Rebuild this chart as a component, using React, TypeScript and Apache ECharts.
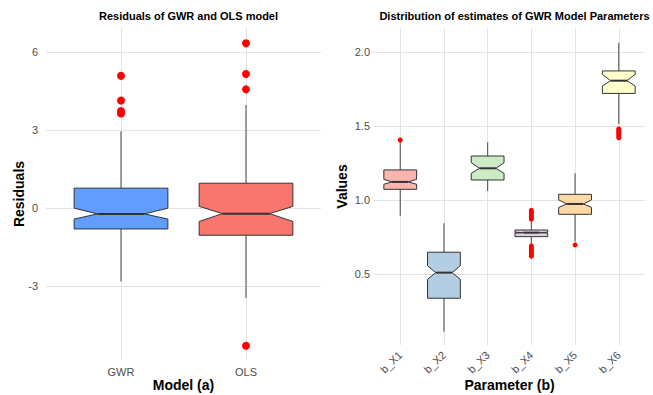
import React, { useEffect, useRef } from "react";
import * as echarts from "echarts";

// Left panel: residuals by model
const models = ["GWR", "OLS"];
const resLowerWhisker = [-2.83, -3.47];
const resQ1 = [-0.81, -1.05];
const resNotchLo = [-0.43, -0.52];
const resMedian = [-0.23, -0.22];
const resNotchHi = [-0.01, 0.06];
const resQ3 = [0.76, 0.95];
const resUpperWhisker = [2.95, 3.96];
const resOutliers: number[][] = [
  [5.08, 4.13, 3.73, 3.63],
  [6.33, 5.15, 4.56, -5.3],
];
const modelColors = ["#619CFF", "#F8766D"];
const residualTicks = [-3, 0, 3, 6];

// Right panel: GWR parameter estimates
const params = ["b_X1", "b_X2", "b_X3", "b_X4", "b_X5", "b_X6"];
const parLowerWhisker = [0.894, 0.11, 1.061, 0.70, 0.72, 1.514];
const parQ1 = [1.072, 0.336, 1.135, 0.752, 0.903, 1.72];
const parNotchLo = [1.106, 0.464, 1.18, 0.776, 0.95, 1.77];
const parMedian = [1.122, 0.509, 1.214, 0.779, 0.973, 1.806];
const parNotchHi = [1.139, 0.556, 1.252, 0.782, 1.0, 1.849];
const parQ3 = [1.203, 0.647, 1.297, 0.797, 1.038, 1.872];
const parUpperWhisker = [1.394, 0.842, 1.39, 0.86, 1.18, 2.063];
const parOutliers: number[][] = [
  [1.405],
  [],
  [],
  [0.93, 0.92, 0.91, 0.9, 0.89, 0.88, 0.87, 0.69, 0.68, 0.67, 0.66, 0.65, 0.64, 0.63, 0.62],
  [0.696],
  [1.48, 1.47, 1.46, 1.45, 1.44, 1.43, 1.42],
];
const paramColors = ["#FBB4AE", "#B3CDE3", "#CCEBC5", "#DECBE4", "#FED9A6", "#FFFFCC"];
const valueTicks = [0.5, 1.0, 1.5, 2.0];

const FONT = "'Liberation Sans', Arial, sans-serif";
const GRID_COLOR = "#E3E3E3";
const BOX_WIDTH = 0.75;

function boxRows(
  lw: number[], q1: number[], nlo: number[], med: number[], nhi: number[], q3: number[], uw: number[]
) {
  return lw.map((_, i) => [i + 1, lw[i], q1[i], nlo[i], med[i], nhi[i], q3[i], uw[i], i]);
}

function outlierRows(out: number[][]) {
  const rows: number[][] = [];
  out.forEach((vals, i) => vals.forEach((v) => rows.push([i + 1, v])));
  return rows;
}

function notchedBox(colors: string[]) {
  return (params: any, api: any) => {
    const x = api.value(0);
    const idx = api.value(8);
    const half = api.size([BOX_WIDTH, 0])[0] / 2;
    const inset = half / 2;
    const cx = api.coord([x, 0])[0];
    const y = (k: number) => api.coord([x, api.value(k)])[1];
    const yLw = y(1), yQ1 = y(2), yNlo = y(3), yMed = y(4), yNhi = y(5), yQ3 = y(6), yUw = y(7);
    const l = cx - half, r = cx + half;
    const stroke = "#333333";
    return {
      type: "group",
      children: [
        {
          type: "line",
          shape: { x1: cx, y1: yQ3, x2: cx, y2: yUw },
          style: { stroke: "#555555", lineWidth: 1.1 },
        },
        {
          type: "line",
          shape: { x1: cx, y1: yQ1, x2: cx, y2: yLw },
          style: { stroke: "#555555", lineWidth: 1.1 },
        },
        {
          type: "polygon",
          shape: {
            points: [
              [l, yQ3], [r, yQ3], [r, yNhi], [r - inset, yMed], [r, yNlo],
              [r, yQ1], [l, yQ1], [l, yNlo], [l + inset, yMed], [l, yNhi],
            ],
          },
          style: { fill: colors[idx], stroke, lineWidth: 1 },
        },
        {
          type: "line",
          shape: { x1: l + inset, y1: yMed, x2: r - inset, y2: yMed },
          style: { stroke, lineWidth: 2 },
        },
      ],
    };
  };
}

function xAxis(gridIndex: number, names: string[], title: string, rotate: number, nameGap: number, margin: number) {
  return {
    type: "value",
    gridIndex,
    min: 0.4,
    max: names.length + 0.6,
    name: title,
    nameLocation: "middle",
    nameGap,
    nameMoveOverlap: false,
    nameTextStyle: { fontFamily: FONT, fontWeight: "bold", fontSize: 14, color: "#000" },
    axisLine: { show: false },
    axisTick: { show: false, customValues: names.map((_, i) => i + 1) },
    axisLabel: {
      customValues: names.map((_, i) => i + 1),
      formatter: (v: number) => names[Math.round(v) - 1] ?? "",
      rotate,
      margin,
      fontFamily: FONT,
      fontSize: 11,
      color: "#4D4D4D",
    },
    splitLine: { show: true, lineStyle: { color: GRID_COLOR, width: 1 } },
  };
}

function yAxis(
  gridIndex: number, min: number, max: number, ticks: number[], title: string,
  nameGap: number, digits: number, margin: number
) {
  return {
    type: "value",
    gridIndex,
    min,
    max,
    name: title,
    nameLocation: "middle",
    nameGap,
    nameMoveOverlap: false,
    nameTextStyle: { fontFamily: FONT, fontWeight: "bold", fontSize: 14, color: "#000" },
    axisLine: { show: false },
    axisTick: { show: false, customValues: ticks },
    axisLabel: {
      customValues: ticks,
      formatter: (v: number) => v.toFixed(digits),
      margin,
      fontFamily: FONT,
      fontSize: 11,
      color: "#4D4D4D",
    },
    splitLine: { show: true, lineStyle: { color: GRID_COLOR, width: 1 } },
  };
}

export default function App() {
  const ref = useRef<HTMLDivElement>(null);

  useEffect(() => {
    if (!ref.current) return;
    const chart = echarts.init(ref.current, null, { renderer: "svg" });
    chart.setOption({
      animation: false,
      backgroundColor: "#FFFFFF",
      title: [
        {
          text: "Residuals of GWR and OLS model",
          left: 183.5,
          top: 5,
          textAlign: "center",
          textStyle: { fontFamily: FONT, fontWeight: "bold", fontSize: 11, color: "#000" },
        },
        {
          text: "Distribution of estimates of GWR Model Parameters",
          left: 509.5,
          top: 5,
          textAlign: "center",
          textStyle: { fontFamily: FONT, fontWeight: "bold", fontSize: 11, color: "#000" },
        },
      ],
      grid: [
        { left: 46, width: 275, top: 28, height: 332, outerBoundsMode: "none", containLabel: false },
        { left: 374, width: 271, top: 28, height: 317, outerBoundsMode: "none", containLabel: false },
      ],
      xAxis: [
        xAxis(0, models, "Model (a)", 0, 18, 6),
        xAxis(1, params, "Parameter (b)", 45, 33, 8),
      ],
      yAxis: [
        yAxis(0, -5.85, 6.92, residualTicks, "Residuals", 20, 0, 8),
        yAxis(1, 0.02, 2.162, valueTicks, "Values", 25, 1, 4),
      ],
      series: [
        {
          type: "custom",
          xAxisIndex: 0,
          yAxisIndex: 0,
          renderItem: notchedBox(modelColors),
          encode: { x: 0, y: [1, 7] },
          data: boxRows(resLowerWhisker, resQ1, resNotchLo, resMedian, resNotchHi, resQ3, resUpperWhisker),
          z: 2,
        },
        {
          type: "scatter",
          xAxisIndex: 0,
          yAxisIndex: 0,
          symbolSize: 8,
          itemStyle: { color: "#FF0000", opacity: 1 },
          data: outlierRows(resOutliers),
          z: 3,
        },
        {
          type: "custom",
          xAxisIndex: 1,
          yAxisIndex: 1,
          renderItem: notchedBox(paramColors),
          encode: { x: 0, y: [1, 7] },
          data: boxRows(parLowerWhisker, parQ1, parNotchLo, parMedian, parNotchHi, parQ3, parUpperWhisker),
          z: 2,
        },
        {
          type: "scatter",
          xAxisIndex: 1,
          yAxisIndex: 1,
          symbolSize: 5,
          itemStyle: { color: "#FF0000", opacity: 1 },
          data: outlierRows(parOutliers),
          z: 3,
        },
      ],
    });
    return () => chart.dispose();
  }, []);

  return (
    <div
      ref={ref}
      style={{ position: "fixed", left: 0, top: 0, width: 653, height: 395, background: "#fff" }}
    />
  );
}
